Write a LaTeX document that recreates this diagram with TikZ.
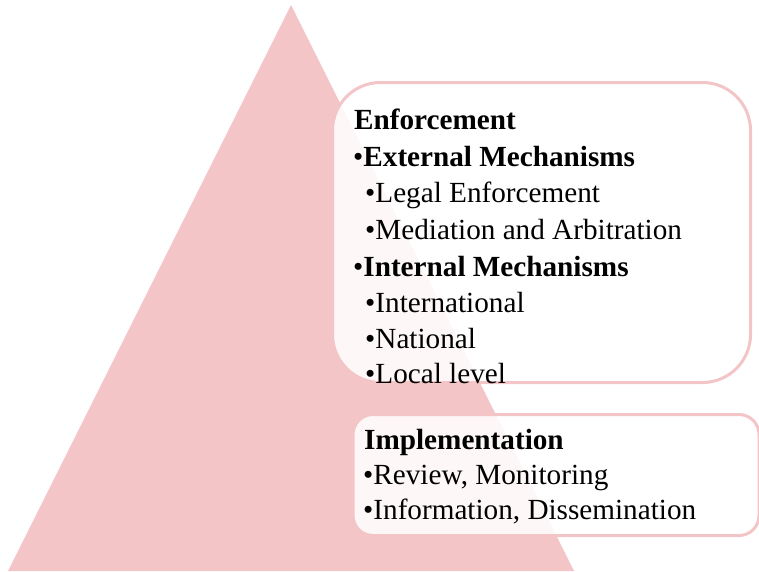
\documentclass[tikz,border=0pt]{standalone}
\usepackage{fontspec}
\setmainfont{Liberation Serif}
\usepackage{tikz}
\usetikzlibrary{positioning}
\definecolor{pyrpink}{RGB}{244,197,199}

\begin{document}
\begin{tikzpicture}[x=1pt,y=1pt]
\tikzstyle{every node}+=[inner sep=0pt]
\tikzstyle{box}=[draw=pyrpink, line width=3pt, fill=white, fill opacity=0.88, text opacity=1]
\tikzstyle{line}=[anchor=base west, font=\fontsize{29.2}{35}\selectfont]
\useasboundingbox (0,0) rectangle (759,-571);
\fill [pyrpink] (291,-5) -- (8,-571) -- (574,-571) -- cycle;
\node [box, rounded corners=48pt, minimum width=418pt, minimum height=300pt] (enfbox) at (541.5,-232.5) {};
\node [box, rounded corners=20pt, minimum width=406pt, minimum height=121pt] (impbox) at (556,-475) {};
\node [line] (enf) at (354,-129) {\textbf{Enforcement}};
\node [line] (ext) at (353,-166) {•\textbf{External Mechanisms}};
\node [line] (legal) at (365,-202) {•Legal Enforcement};
\node [line] (med) at (365,-239) {•Mediation and Arbitration};
\node [line] (int) at (353,-276) {•\textbf{Internal Mechanisms}};
\node [line] (intl) at (365,-312) {•International};
\node [line] (natl) at (365,-348) {•National};
\node [line] (local) at (365,-383) {•Local level};
\node [line] (imp) at (364,-449) {\textbf{Implementation}};
\node [line] (rev) at (363,-484) {•Review, Monitoring};
\node [line] (info) at (363,-519) {•Information, Dissemination};
\end{tikzpicture}
\end{document}
